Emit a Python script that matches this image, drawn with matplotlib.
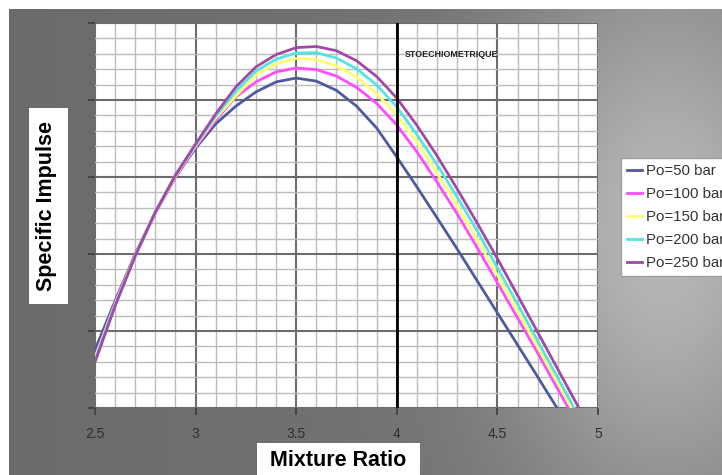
import numpy as np
import matplotlib
matplotlib.use("Agg")
import matplotlib.pyplot as plt
from matplotlib.patches import Rectangle
from matplotlib.lines import Line2D
from matplotlib.ticker import MultipleLocator

# ---------------- data ----------------
mixture_ratio = [2.5, 2.6, 2.7, 2.8, 2.9, 3.0, 3.1, 3.2, 3.3, 3.4, 3.5, 3.6, 3.7,
                 3.8, 3.9, 4.0, 4.1, 4.2, 4.3, 4.4, 4.5, 4.6, 4.7, 4.8, 4.9, 5.0]
isp_50 = [315.1, 327.8, 340.0, 350.9, 360.0, 367.5, 373.8, 378.4, 382.1, 384.7, 385.7, 384.9, 382.5,
          378.4, 372.7, 365.2, 357.4, 349.4, 341.3, 333.0, 324.7, 316.4, 308.1, 299.7, 291.2, 282.6]
isp_100 = [313.2, 327.3, 339.7, 350.6, 360.0, 367.8, 374.8, 380.8, 384.7, 387.3, 388.3, 387.9, 386.2,
           383.3, 379.1, 373.5, 366.5, 358.7, 350.4, 341.6, 332.5, 323.4, 314.3, 304.9, 295.6, 286.2]
isp_150 = [313.0, 327.0, 339.7, 350.9, 360.3, 368.1, 375.3, 381.0, 386.5, 389.4, 390.8, 390.5, 388.8,
           386.0, 381.6, 376.1, 369.1, 361.0, 352.5, 343.6, 334.5, 325.2, 315.8, 306.5, 297.1, 287.8]
isp_200 = [312.5, 326.8, 339.5, 350.9, 360.5, 368.3, 375.8, 382.3, 387.5, 390.6, 392.2, 392.3, 390.9,
           388.1, 383.9, 378.2, 371.0, 363.2, 354.8, 346.0, 336.4, 327.0, 317.4, 307.8, 298.2, 288.6]
isp_250 = [311.9, 326.5, 339.5, 350.9, 360.5, 368.6, 376.4, 383.4, 388.6, 391.8, 393.6, 393.9, 392.8,
           390.2, 386.1, 380.5, 373.4, 365.5, 356.9, 348.0, 338.8, 329.3, 319.7, 310.1, 300.5, 290.9]
series_labels = ["Po=50 bar", "Po=100 bar", "Po=150 bar", "Po=200 bar", "Po=250 bar"]
x_ticks = [2.5, 3.0, 3.5, 4.0, 4.5, 5.0]
x_tick_labels = ["2.5", "3", "3.5", "4", "4.5", "5"]
stoich_mr = 4.0
stoich_label = "STOECHIOMETRIQUE"

# ---------------- styling ----------------
series_colors = ["#4f5a9c", "#ff4cff", "#ffff70", "#55e4e4", "#a04aa6"]
FONT = ["Liberation Sans", "DejaVu Sans"]
W, H = 722, 475

fig = plt.figure(figsize=(W / 100, H / 100), dpi=100)
fig.patch.set_facecolor("white")

# gray gradient background with a soft light glow on the right
bg = fig.add_axes([0, 0, 1, 1], zorder=0)
yy, xx = np.mgrid[0:H, 0:W]
g = 0.42 + 0.05 * xx / W + 0.25 * np.exp(-(((xx - 660) / 115.0) ** 2 + ((yy - 235) / 190.0) ** 2) / 2)
g = np.clip(g, 0, 1)
img = np.dstack([g, g, g])
img[:9, :, :] = 1.0
img[:, :9, :] = 1.0
bg.imshow(img, extent=[0, W, H, 0], aspect="auto", interpolation="bilinear")
bg.set_xlim(0, W)
bg.set_ylim(H, 0)
bg.axis("off")

# main plot area
ax = fig.add_axes([95 / W, 1 - 408 / H, 503 / W, 385 / H], zorder=2)
ax.set_facecolor("white")
ax.set_xlim(2.5, 5.0)
ax.set_ylim(300, 400)
ax.xaxis.set_major_locator(MultipleLocator(0.5))
ax.xaxis.set_minor_locator(MultipleLocator(0.1))
ax.yaxis.set_major_locator(MultipleLocator(20))
ax.yaxis.set_minor_locator(MultipleLocator(4))
ax.set_xticks(x_ticks)
ax.set_xticklabels(x_tick_labels)
ax.grid(which="minor", color="#bcbcbc", linewidth=1.0)
ax.grid(which="major", color="#6c6c6c", linewidth=1.5)
ax.set_axisbelow(True)
for s in ax.spines.values():
    s.set_visible(False)
ax.tick_params(axis="x", which="major", direction="out", length=5, width=1.2,
               color="#3c3c3c", labelsize=10, labelcolor="#2e2e2e", pad=9)
ax.tick_params(axis="y", which="major", direction="out", length=5, width=1.2,
               color="#3c3c3c", labelleft=False)
ax.tick_params(which="minor", length=0)
for lab in ax.get_xticklabels():
    lab.set_family(FONT)

series = [isp_50, isp_100, isp_150, isp_200, isp_250]
handles = []
for vals, col, lab in zip(series, series_colors, series_labels):
    ax.plot(mixture_ratio, vals, color=col, linewidth=2.0, label=lab,
            solid_capstyle="round", solid_joinstyle="round")
    handles.append(Line2D([0], [0], color=col, linewidth=2.0))

ax.axvline(stoich_mr, color="black", linewidth=2.0, zorder=5)
ax.text(0.616, 0.918, stoich_label, transform=ax.transAxes, fontsize=6.4,
        fontweight="bold", color="#222222", ha="left", va="center", family=FONT)

# axis title boxes
fig.add_artist(Rectangle((29 / W, 1 - 304 / H), 39 / W, 196 / H, transform=fig.transFigure,
                         facecolor="white", edgecolor="none", zorder=3))
fig.text(47 / W, 1 - 206 / H, "Specific Impulse", rotation=90, ha="center", va="center",
         fontsize=15.5, fontweight="bold", family=FONT, color="black", zorder=4)
fig.add_artist(Rectangle((257 / W, 0), 163 / W, (475 - 443) / H, transform=fig.transFigure,
                         facecolor="white", edgecolor="none", zorder=3))
fig.text(338 / W, 1 - 460 / H, "Mixture Ratio", ha="center", va="center",
         fontsize=15.5, fontweight="bold", family=FONT, color="black", zorder=4)

leg = fig.legend(handles, series_labels, loc="upper left",
                 bbox_to_anchor=(621 / W, 1 - 158 / H), frameon=True, fancybox=False,
                 edgecolor="#a0a0a0", framealpha=1.0, facecolor="white",
                 prop={"family": FONT, "size": 10.8}, handlelength=1.0,
                 handletextpad=0.3, labelspacing=0.6, borderpad=0.4,
                 borderaxespad=0)
leg.set_zorder(6)
for t in leg.get_texts():
    t.set_color("#333333")

fig.savefig("out.png", dpi=100)
